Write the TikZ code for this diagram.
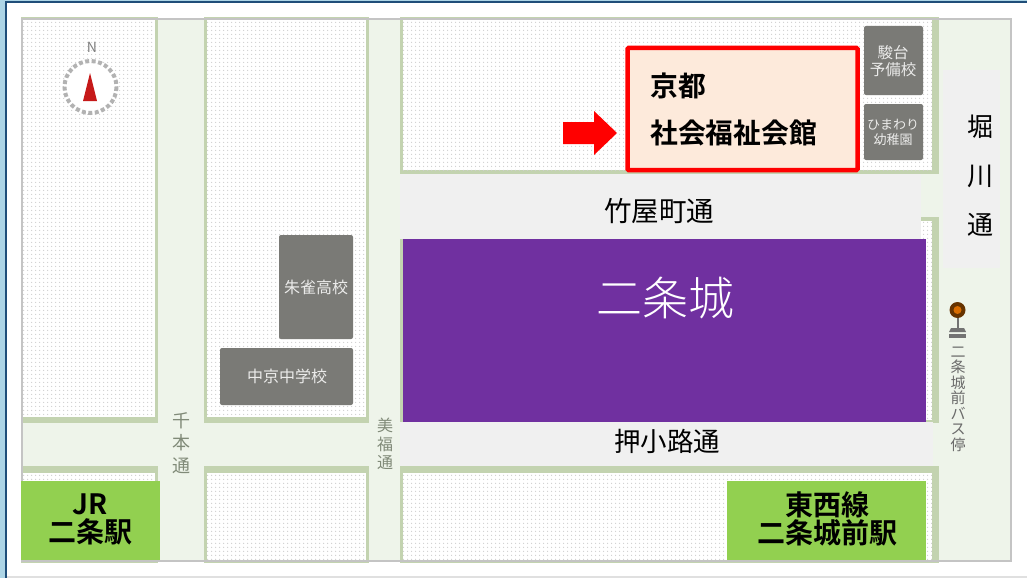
\documentclass[tikz,border=0pt]{standalone}
\usepackage{fontspec}
\setmainfont{Noto Sans CJK JP}
\newfontfamily\cjkb{Noto Sans CJK JP Bold}
\newfontfamily\cjkl{Noto Sans CJK JP Light}
\usetikzlibrary{patterns.meta}
\definecolor{roadc}{HTML}{EEF4EA}
\definecolor{edgec}{HTML}{C3D3B0}
\definecolor{framec}{HTML}{C4C4C4}
\definecolor{dotc}{HTML}{CFCFCF}
\definecolor{bldc}{HTML}{7A7A76}
\definecolor{panelc}{HTML}{F0F0F0}
\definecolor{stationc}{HTML}{92D050}
\definecolor{purplec}{HTML}{7030A0}
\definecolor{venuec}{HTML}{FDEADB}
\definecolor{navyc}{HTML}{1F4E79}
\definecolor{skyc}{HTML}{ADD5E6}
\definecolor{labelc}{HTML}{808A78}
\tikzset{
  x=1pt,y=-1pt,
  dots/.style={pattern={Dots[radius=0.8pt,distance=4pt,angle=0]},pattern color=dotc},
  bld/.style={fill=bldc,draw=none,rounded corners=2pt},
  bldtext/.style={text=white!85!bldc,font=\fontsize{16}{18}\selectfont,align=center,inner sep=0pt},
  panel/.style={fill=panelc,draw=none},
  station/.style={fill=stationc,draw=none},
  stationtext/.style={font=\fontsize{28}{28}\cjkb,align=center,inner sep=0pt,text=black},
  roadtext/.style={inner sep=0pt,text=black},
  smallroad/.style={align=center,inner sep=0pt,text=labelc},
  venuetext/.style={font=\fontsize{27.8}{28}\cjkb,anchor=west,inner sep=0pt},
}
% x1 y1 x2 y2 | inset top, right, bottom
\newcommand{\cityblock}[7]{%
  \fill[edgec] (#1,#2) rectangle (#3,#4);
  \fill[white] (#1+3,#2+#5) rectangle (#3-#6,#4-#7);
  \fill[dots] (#1+3,#2+#5) rectangle (#3-#6,#4-#7);
}
\begin{document}
\begin{tikzpicture}
\useasboundingbox (0,0) rectangle (1027,578);
% slide frame
\fill[skyc] (0,0) rectangle (1027,578);
\fill[navyc] (5,1) rectangle (1027,578);
\fill[white] (7,3) rectangle (1027,576);
\fill[black!12] (7,576) rectangle (1027,578);
% map base
\fill[roadc] (21,18) rectangle (1012,562);
% city blocks
\cityblock{18}{16}{158}{423}{4}{3}{6}
\cityblock{204}{16}{369}{423}{4}{3}{6}
\cityblock{400}{16}{939}{174}{4}{7}{4}
\cityblock{400}{217}{939}{423}{4}{7}{3}
\cityblock{18}{466}{158}{564}{7}{3}{3}
\cityblock{204}{466}{369}{564}{7}{3}{3}
\cityblock{400}{466}{939}{564}{7}{7}{3}
% mask the overflow and draw the map frame
\fill[white] (7,3) rectangle (1027,17);
\fill[white] (7,563) rectangle (1027,576);
\fill[white] (7,17) rectangle (21,563);
\draw[framec,line width=2pt] (22,19) rectangle (1011,561);
% buildings
\path[bld] (279,235) rectangle (353,339);
\node[bldtext] (suzaku) at (316,287) {朱雀高校};
\path[bld] (220,348) rectangle (353,405);
\node[bldtext] (chukyo) at (287,376) {中京中学校};
\path[bld] (864,26) rectangle (923,95);
\node[bldtext,font=\fontsize{15.5}{17}\selectfont] (sundai) at (893,61) {駿台\\予備校};
\path[bld] (864,104) rectangle (923,160);
\node[bldtext,font=\fontsize{13}{15}\selectfont] (himawari) at (893,132) {ひまわり\\幼稚園};
% road panels
\path[panel] (400,174) rectangle (921,239);
\path[panel] (400,422) rectangle (933,466);
\path[panel] (943,70) rectangle (1000,268);
% castle
\node[fill=purplec,minimum width=523pt,minimum height=183pt,inner sep=0pt,outer sep=0pt,anchor=north west] (castle) at (403,239) {};
\node[font=\fontsize{46}{46}\cjkl,text=white,inner sep=0pt] (castlelabel) at (665,298) {二条城};
% road labels
\node[roadtext,font=\fontsize{27.5}{28}\selectfont] (takeya) at (659,211) {竹屋町通};
\node[roadtext,font=\fontsize{26.5}{27}\selectfont] (oshikoji) at (667,441) {押小路通};
\node[roadtext,font=\fontsize{26}{49}\selectfont,align=center] (horikawa) at (980,176) {堀\\川\\通};
\node[smallroad,font=\fontsize{18}{22.5}\selectfont] (senbon) at (181,443) {千\\本\\通};
\node[smallroad,font=\fontsize{16}{18.5}\selectfont] (mifuku) at (385,444) {美\\福\\通};
% venue
\node[draw=red,line width=4.5pt,fill=venuec,rounded corners=1pt,minimum width=230pt,minimum height=122pt,inner sep=0pt,outer sep=0pt,anchor=north west] (venue) at (627.5,48) {};
\node[venuetext] (venue1) at (650,86) {京都};
\node[venuetext] (venue2) at (650,133) {社会福祉会館};
\fill[red] (563,122) -- (594,122) -- (594,111) -- (617,133) -- (594,155) -- (594,144) -- (563,144) -- cycle;
% stations
\path[station] (21,481) rectangle (160,560);
\node[stationtext,font=\fontsize{28}{28}\cjkb] (jr) at (90.5,519) {JR\\二条駅};
\path[station] (727,481) rectangle (926,560);
\node[stationtext] (tozai) at (827,519) {東西線\\二条城前駅};
% compass
\fill[white] (90.5,87) circle (27);
\draw[black!30,line width=4pt,dash pattern=on 4pt off 2.5pt] (90.5,87) circle (26);
\fill[red!75!black!90!white] (90,73) -- (97,101) -- (83,101) -- cycle;
\node[font=\fontsize{14}{14}\selectfont,text=black!50,inner sep=0pt] (north) at (92,47) {N};
% bus stop
\fill[black!55] (949,334) rectangle (966,338);
\fill[black!55] (951,328) -- (964,328) -- (966,332) -- (949,332) -- cycle;
\draw[black!55,line width=2pt] (957.5,312) -- (957.5,328);
\fill[black!60!orange] (957.5,310) circle (8);
\fill[orange!85!black] (957.5,310) circle (4);
\node[font=\fontsize{15}{15.5}\selectfont,align=center,inner sep=0pt,text=black!58] (busstop) at (958,399) {二\\条\\城\\前\\バ\\ス\\停};
\end{tikzpicture}
\end{document}
